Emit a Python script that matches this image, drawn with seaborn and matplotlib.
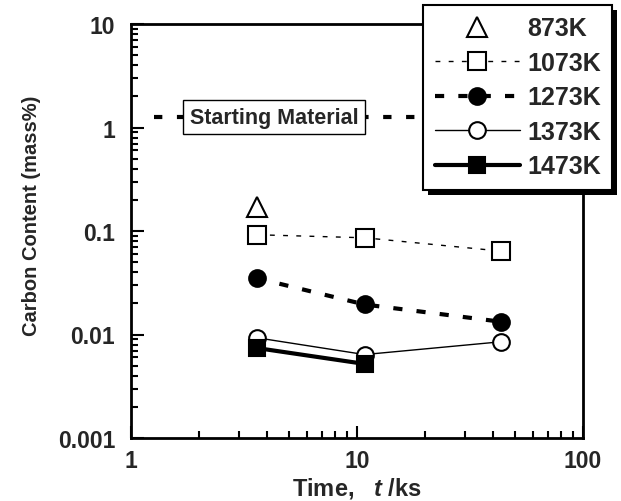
import matplotlib
matplotlib.use("Agg")
import matplotlib.pyplot as plt
import seaborn as sns
import pandas as pd
from matplotlib.patches import Rectangle

# ---- data ----
times = [3.6, 10.8, 43.2]
c_873 = [0.17]
c_1073 = [0.092, 0.086, 0.064]
c_1273 = [0.035, 0.0195, 0.0133]
c_1373 = [0.0093, 0.0064, 0.0085]
c_1473 = [0.0074, 0.0052]
labels = ["873K", "1073K", "1273K", "1373K", "1473K"]
start_c = 1.26
start_label = "Starting Material"
xticks = [1, 10, 100]
xticklabels = ["1", "10", "100"]
yticks = [0.001, 0.01, 0.1, 1, 10]
yticklabels = ["0.001", "0.01", "0.1", "1", "10"]

sns.set_theme(style="white")
plt.rcParams["font.family"] = ["Liberation Sans", "DejaVu Sans"]
plt.rcParams["font.weight"] = "bold"
plt.rcParams["axes.labelweight"] = "bold"
plt.rcParams["mathtext.fontset"] = "custom"
plt.rcParams["mathtext.it"] = "Liberation Sans:italic:bold"
plt.rcParams["mathtext.rm"] = "Liberation Sans:bold"

fig = plt.figure(figsize=(6.21, 5.02), dpi=100)
ax = fig.add_axes([131 / 621, 1 - 439 / 502, (583 - 131) / 621, (439 - 25) / 502])

series = [
    (times[:1], c_873, dict(marker="^", markersize=14, markerfacecolor="white",
                            linestyle="none", linewidth=1)),
    (times, c_1073, dict(marker="s", markersize=13, markerfacecolor="white",
                         linestyle=(0, (3.5, 6)), linewidth=1)),
    (times, c_1273, dict(marker="o", markersize=12, markerfacecolor="black",
                         linestyle=(0, (2.2, 3.4)), linewidth=3)),
    (times, c_1373, dict(marker="o", markersize=12, markerfacecolor="white",
                         linestyle="-", linewidth=1)),
    (times[:2], c_1473, dict(marker="s", markersize=12, markerfacecolor="black",
                             linestyle="-", linewidth=3)),
]

handles = []
for (t, c, st), lab in zip(series, labels):
    df = pd.DataFrame({"t": t, "c": c})
    n_before = len(ax.lines)
    sns.lineplot(data=df, x="t", y="c", ax=ax, color="black", sort=False,
                 estimator=None, legend=False, markeredgecolor="black",
                 markeredgewidth=1.5, zorder=3, **st)
    ln = ax.lines[n_before]
    ln.set_label(lab)
    handles.append(ln)

# starting material line and box
ax.axhline(start_c, xmin=0.05, color="black", linewidth=3,
           linestyle=(0, (2.0, 3.5)), zorder=2)
ax.text(4.3, start_c, start_label, ha="center", va="center", fontsize=15.5,
        fontweight="bold", zorder=4,
        bbox=dict(boxstyle="square,pad=0.3", facecolor="white",
                  edgecolor="black", linewidth=1))

ax.set_xscale("log")
ax.set_yscale("log")
ax.set_xlim(1, 100)
ax.set_ylim(0.001, 10)
ax.set_xticks(xticks, labels=xticklabels)
ax.set_yticks(yticks, labels=yticklabels)

for sp in ax.spines.values():
    sp.set_color("black")
    sp.set_linewidth(2)

ax.tick_params(which="both", direction="in", left=True, bottom=True,
               top=False, right=False, color="black", width=1.5)
ax.tick_params(which="major", length=9, labelsize=16.5, pad=8)
ax.tick_params(which="minor", length=5)
ax.tick_params(axis="y", which="major", pad=11.5)
for lbl in ax.get_xticklabels() + ax.get_yticklabels():
    lbl.set_fontweight("bold")

ax.set_xlabel("Time,   $\\mathit{t}$ /ks", fontsize=17, fontweight="bold", labelpad=2)
ax.set_ylabel("Carbon Content (mass%)", fontsize=14.5, fontweight="bold")
ax.yaxis.set_label_coords(-0.2, 0.54)

leg = fig.legend(handles=handles, labels=labels, loc="upper right",
                 bbox_to_anchor=(612 / 621, 1 - 6 / 502), borderaxespad=0,
                 frameon=True, fancybox=False, framealpha=1, edgecolor="black",
                 handlelength=3.4, handletextpad=0.3,
                 labelspacing=0.42, borderpad=0.45, numpoints=1,
                 prop=dict(weight="bold", size=18))
leg.get_frame().set_linewidth(1.5)

fig.canvas.draw()
bb = leg.get_window_extent().transformed(fig.transFigure.inverted())
dx, dy = 5 / 621, 5 / 502
shadow = Rectangle((bb.x0 + dx, bb.y0 - dy), bb.width, bb.height,
                   transform=fig.transFigure, facecolor="black",
                   edgecolor="none", zorder=leg.get_zorder() - 0.1)
fig.add_artist(shadow)

fig.savefig("out.png", dpi=100)
